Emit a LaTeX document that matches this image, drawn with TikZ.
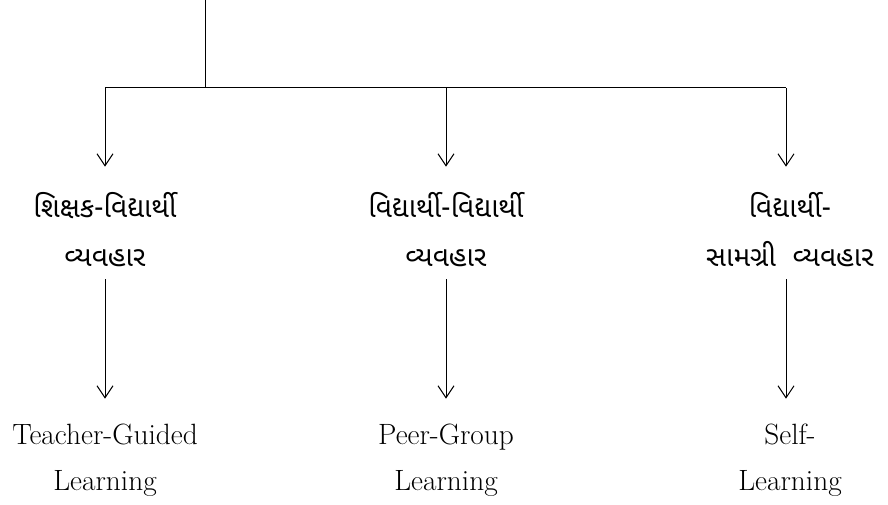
\documentclass[tikz,border=0pt]{standalone}
\usepackage{fontspec}
\newfontfamily\gujfont[Script=Gujarati]{Noto Sans Gujarati UI}
\usetikzlibrary{arrows.meta,positioning}

\tikzset{
	flow/.style={-{Straight Barb[length=9pt,width=12pt]}, line width=0.75pt, shorten >=19pt},
	flowdown/.style={flow, shorten <=9pt},
	gujlabel/.style={align=center, inner sep=0pt, font=\gujfont\fontsize{21}{37}\selectfont},
	englabel/.style={align=center, inner sep=0pt, font=\fontsize{22}{34}\selectfont}
}

\begin{document}
\begin{tikzpicture}[x=0.75pt, y=-0.75pt]
	\useasboundingbox (0,0) rectangle (888,505);

	% trunk and bar
	\coordinate (top) at (205,0);
	\coordinate (hub) at (205,88);
	\coordinate (barL) at (105,88);
	\coordinate (barM) at (446,88);
	\coordinate (barR) at (786,88);
	\draw[line width=0.75pt] (top) -- (hub);
	\draw[line width=0.75pt] (barL) -- (barR);

	% gujarati labels
	\node[gujlabel, anchor=north] (teach) at (105,192) {શિક્ષક-વિદ્યાર્થી\\વ્યવહાર};
	\node[gujlabel, anchor=north] (peer) at (446,192) {વિદ્યાર્થી-વિદ્યાર્થી\\વ્યવહાર};
	\node[gujlabel, anchor=north] (self) at (790,192) {વિદ્યાર્થી-\\સામગ્રી\ \ વ્યવહાર};

	% english labels
	\node[englabel, anchor=north] (tgl) at (105,424) {Teacher-Guided\\Learning};
	\node[englabel, anchor=north] (pgl) at (446,424) {Peer-Group\\Learning};
	\node[englabel, anchor=north] (sl) at (790,424) {Self-\\Learning};

	\draw[flow] (barL) -- (teach);
	\draw[flow] (barM) -- (peer);
	\draw[flow] (barR) -- (barR |- self.north);

	\draw[flowdown] (teach) -- (tgl);
	\draw[flowdown] (peer) -- (pgl);
	\draw[flowdown] (barR |- self.south) -- (barR |- sl.north);
\end{tikzpicture}
\end{document}
